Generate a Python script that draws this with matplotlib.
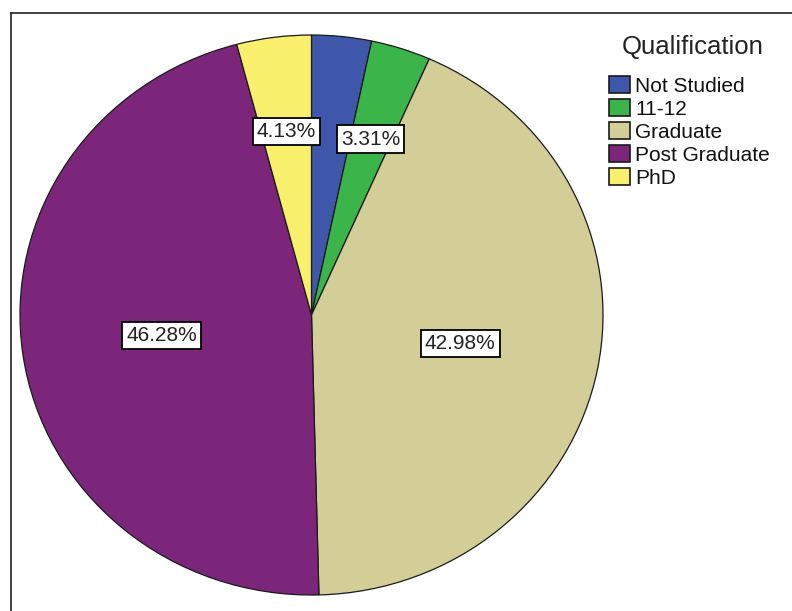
import numpy as np
import matplotlib
matplotlib.use("Agg")
import matplotlib.pyplot as plt
from matplotlib.lines import Line2D

categories = ["Not Studied", "11-12", "Graduate", "Post Graduate", "PhD"]
percentages = [3.31, 3.31, 42.98, 46.28, 4.13]
shown_labels = [False, True, True, True, True]
colors = ["#3f57ab", "#3bb54a", "#d3ce98", "#7c267b", "#f8f06c"]
legend_title = "Qualification"

plt.rcParams["font.family"] = ["Liberation Sans", "DejaVu Sans"]

W, H = 792, 611
fig = plt.figure(figsize=(W / 100, H / 100), dpi=100)

# pie area (slightly wider than tall)
left_px, right_px, top_px, bottom_px = 20, 603, 35, 595
ax = fig.add_axes([left_px / W, 1 - bottom_px / H,
                   (right_px - left_px) / W, (bottom_px - top_px) / H])
wedges, _ = ax.pie(percentages, colors=colors, startangle=90, counterclock=False,
                   wedgeprops=dict(edgecolor="#1a1a1a", linewidth=0.9))
ax.set_aspect("auto")
ax.set_xlim(-1, 1)
ax.set_ylim(-1, 1)
ax.axis("off")

# percentage labels in white boxes
for w, p, show in zip(wedges, percentages, shown_labels):
    if not show:
        continue
    mid = np.deg2rad((w.theta1 + w.theta2) / 2)
    r = 0.66 if p < 10 else 0.52
    ax.text(r * np.cos(mid), r * np.sin(mid), f"{p:.2f}%", ha="center", va="center",
            fontsize=15, color="#222222",
            bbox=dict(boxstyle="square,pad=0.2", facecolor="white",
                      edgecolor="black", linewidth=1.3))

# legend title and entries
fig.text(693 / W, 1 - 47 / H, legend_title, ha="center", va="center",
         fontsize=18.5, color="#222222")
leg = fig.legend(wedges, categories,
                 loc="upper left", bbox_to_anchor=(609 / W, 1 - 76 / H),
                 frameon=False, fontsize=15,
                 handlelength=1.0, handleheight=0.85, handletextpad=0.25,
                 labelspacing=0.17, borderaxespad=0, borderpad=0)
for t in leg.get_texts():
    t.set_color("#111111")
for h in leg.legend_handles:
    h.set_edgecolor("#1a1a1a")
    h.set_linewidth(1.2)

# frame lines along the top and left edges
fig.add_artist(Line2D([11 / W, 1], [1 - 13 / H, 1 - 13 / H], transform=fig.transFigure,
                      color="#222222", linewidth=1.2))
fig.add_artist(Line2D([11 / W, 11 / W], [0, 1 - 13 / H], transform=fig.transFigure,
                      color="#222222", linewidth=1.2))

fig.savefig("out.png", dpi=100, facecolor="white")
